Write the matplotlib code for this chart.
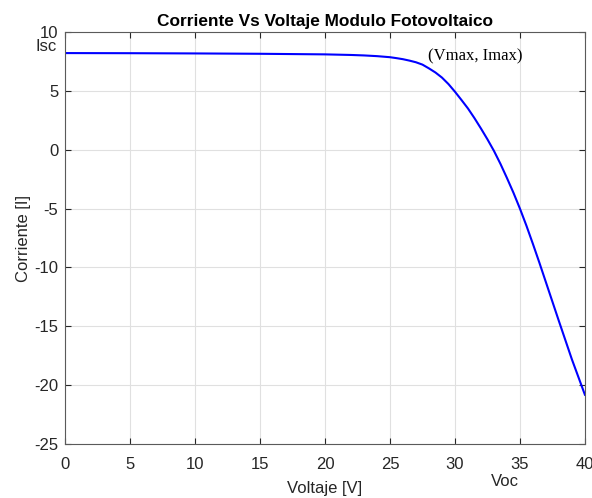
import numpy as np
import matplotlib
matplotlib.use("Agg")
import matplotlib.pyplot as plt

voltaje = [0, 5, 10, 15, 20, 22, 23, 24, 25, 25.5, 26, 26.5, 27, 27.5, 28, 28.5, 29, 29.5,
           30, 30.5, 31, 31.5, 32, 32.5, 33, 33.5, 34, 34.5, 35, 35.5, 36, 36.5, 37, 37.5,
           38, 39, 40]
corriente = [8.2, 8.19, 8.17, 8.14, 8.09, 8.04, 8.0, 7.94, 7.85, 7.77, 7.68, 7.56, 7.42, 7.22,
             6.9, 6.55, 6.12, 5.57, 4.92, 4.22, 3.5, 2.68, 1.8, 0.88, -0.1, -1.2, -2.4, -3.65,
             -5.0, -6.45, -8.0, -9.6, -11.25, -12.9, -14.55, -17.8, -20.8]
xticks = [0, 5, 10, 15, 20, 25, 30, 35, 40]
yticks = [10, 5, 0, -5, -10, -15, -20, -25]

plt.rcParams['font.family'] = ['Arial', 'Liberation Sans', 'DejaVu Sans']
plt.rcParams['axes.unicode_minus'] = False

fig = plt.figure(figsize=(5.92, 4.98), dpi=100)
ax = fig.add_axes([0.110, 0.108, 0.878, 0.828])
ax.plot(voltaje, corriente, color=(0, 0, 1), linewidth=1.5)
ax.set_xlim(0, 40)
ax.set_ylim(-25, 10)
ax.set_xticks(xticks)
ax.set_yticks(yticks)
ax.grid(True, color='#e0e0e0', linewidth=0.8)
ax.tick_params(direction='in', top=True, right=True, labelsize=12, colors='#262626', length=4)
ax.tick_params(axis='x', pad=9)
ax.tick_params(axis='y', pad=5)
for s in ax.spines.values():
    s.set_color('#5a5a5a')
ax.set_xlabel('Voltaje [V]', fontsize=12, color='#262626', labelpad=6.5)
ax.set_ylabel('Corriente [I]', fontsize=12, color='#262626', labelpad=2)
ax.set_title('Corriente Vs Voltaje Modulo Fotovoltaico', fontsize=12.4, fontweight='bold', pad=4)

ax.text(-1.5, 8.73, 'Isc', fontsize=12, color='#262626', ha='center', va='center', clip_on=False)
ax.text(33.85, -28.2, 'Voc', fontsize=12, color='#262626', ha='center', va='center', clip_on=False)
ax.text(27.9, 7.9, '(Vmax, Imax)', fontsize=12, family='Liberation Serif', ha='left', va='center')

fig.savefig('out.png', dpi=100)
